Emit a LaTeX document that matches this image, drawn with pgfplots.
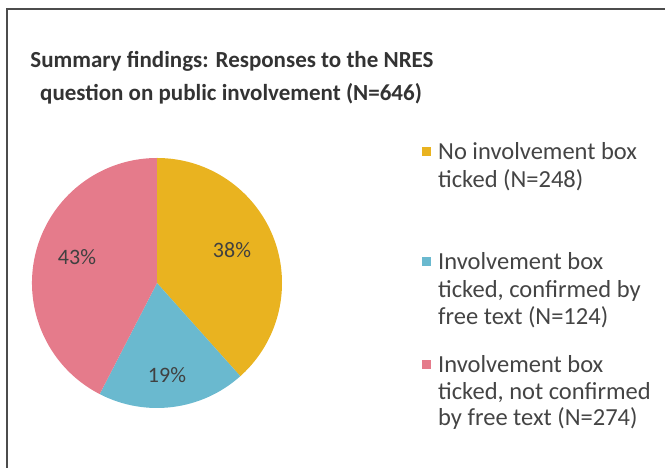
\documentclass[border=0pt]{standalone}
\usepackage{pgfplots}
\pgfplotsset{compat=1.18}
\usepackage{pgfplotstable}
\usepackage{fontspec}
\setmainfont{Carlito}
\definecolor{pyel}{HTML}{E9B320}
\definecolor{pblu}{HTML}{6AB9CF}
\definecolor{ppnk}{HTML}{E57B8B}
\definecolor{ttl}{HTML}{333333}
\definecolor{lgd}{HTML}{444444}
\pgfplotstableread{
name value
none 248
confirmed 124
notconfirmed 274
}\piedata
\pgfplotstablegetelem{0}{value}\of\piedata \let\va\pgfplotsretval
\pgfplotstablegetelem{1}{value}\of\piedata \let\vb\pgfplotsretval
\pgfplotstablegetelem{2}{value}\of\piedata \let\vc\pgfplotsretval
\pgfmathsetmacro{\tot}{\va+\vb+\vc}
\pgfmathsetmacro{\aA}{90}
\pgfmathsetmacro{\aB}{90-360*(\va/\tot)}
\pgfmathsetmacro{\aC}{\aB-360*(\vb/\tot)}
\pgfmathsetmacro{\aD}{\aC-360*(\vc/\tot)}
\begin{document}
\begin{tikzpicture}[x=1pt,y=1pt]
\path[use as bounding box] (0,0) rectangle (665,468);
\draw[black!70, line width=1.4pt] (7,0) -- (7,459) -- (665,459);
% title
\node[anchor=base, font=\fontsize{23}{28}\selectfont\bfseries, text=ttl, inner sep=0pt] at (232,468-68) {Summary findings: Responses to the NRES};
\node[anchor=base, font=\fontsize{23}{28}\selectfont\bfseries, text=ttl, inner sep=0pt] at (231,468-101) {question on public involvement (N=646)};
\begin{axis}[at={(157pt,185pt)}, anchor=center, x=125pt, y=125pt,
  xmin=-1, xmax=1, ymin=-1, ymax=1, hide axis, clip=false]
\fill[pyel] (axis cs:0,0) -- (axis cs:{cos(\aA)},{sin(\aA)}) arc[start angle=\aA, end angle=\aB, radius=125pt] -- cycle;
\fill[pblu] (axis cs:0,0) -- (axis cs:{cos(\aB)},{sin(\aB)}) arc[start angle=\aB, end angle=\aC, radius=125pt] -- cycle;
\fill[ppnk] (axis cs:0,0) -- (axis cs:{cos(\aC)},{sin(\aC)}) arc[start angle=\aC, end angle=\aD, radius=125pt] -- cycle;
\node[font=\fontsize{22}{26}\selectfont, text=black!75] at (axis cs:0.60,0.264) {38\%};
\node[font=\fontsize{22}{26}\selectfont, text=black!75] at (axis cs:0.08,-0.736) {19\%};
\node[font=\fontsize{22}{26}\selectfont, text=black!75] at (axis cs:-0.64,0.21) {43\%};
\end{axis}
% legend
\begin{scope}[every node/.style={anchor=base west, inner sep=0pt, text=lgd, font=\fontsize{24.5}{27}\selectfont}]
\fill[pyel] (422,468-147) rectangle (431,468-156);
\node at (438,468-160) {No involvement box};
\node at (438,468-188) {ticked (N=248)};
\fill[pblu] (422,468-257) rectangle (431,468-266);
\node at (438,468-270) {Involvement box};
\node at (438,468-298) {ticked, confirmed by};
\node at (438,468-325) {free text (N=124)};
\fill[ppnk] (422,468-360) rectangle (431,468-369);
\node at (438,468-373) {Involvement box};
\node at (438,468-400) {ticked, not confirmed};
\node at (438,468-426) {by free text (N=274)};
\end{scope}
\end{tikzpicture}
\end{document}
